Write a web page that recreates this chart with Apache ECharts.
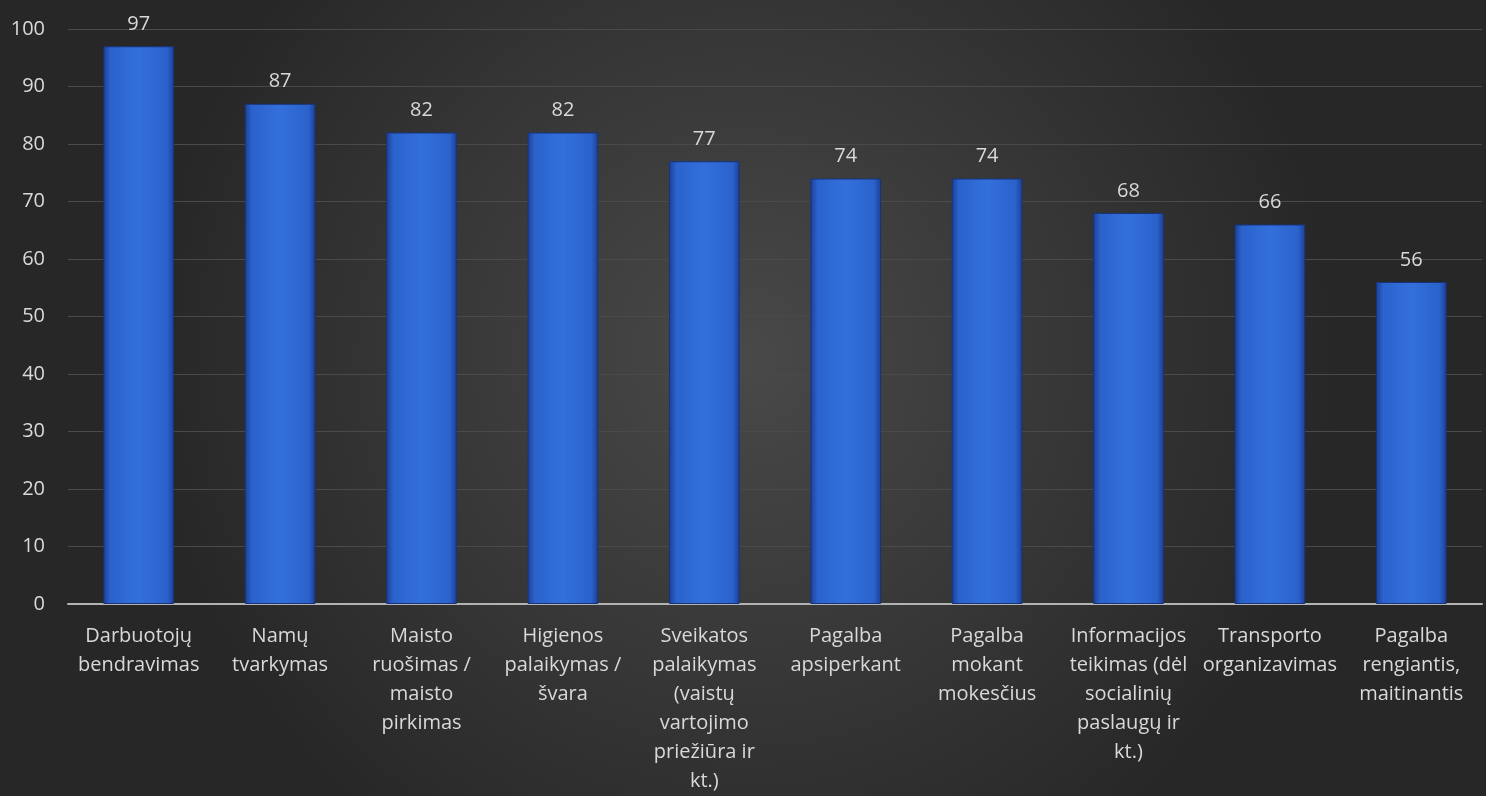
<!DOCTYPE html>
<html><head><meta charset="utf-8">
<script src="https://cdn.jsdelivr.net/npm/echarts@6/dist/echarts.min.js"></script>
<style>html,body{margin:0;padding:0;background:#333;}#c{width:1486px;height:796px;}</style>
</head><body><div id="c"></div>
<script>
const categories = [
  "Darbuotojų\nbendravimas",
  "Namų\ntvarkymas",
  "Maisto\nruošimas /\nmaisto\npirkimas",
  "Higienos\npalaikymas /\nšvara",
  "Sveikatos\npalaikymas\n(vaistų\nvartojimo\npriežiūra ir\nkt.)",
  "Pagalba\napsiperkant",
  "Pagalba\nmokant\nmokesčius",
  "Informacijos\nteikimas (dėl\nsocialinių\npaslaugų ir\nkt.)",
  "Transporto\norganizavimas",
  "Pagalba\nrengiantis,\nmaitinantis"
];
const values = [97, 87, 82, 82, 77, 74, 74, 68, 66, 56];
const yMin = 0, yMax = 100, yStep = 10;

const chart = echarts.init(document.getElementById('c'));
const font = '"Open Sans", Lato, sans-serif';
chart.setOption({
  backgroundColor: {
    type: 'radial', x: 0.5, y: 0.45, r: 0.75,
    colorStops: [{offset: 0, color: '#494949'}, {offset: 1, color: '#272727'}]
  },
  animation: false,
  grid: {left: 68, right: 4, top: 29, bottom: 190},
  xAxis: {
    type: 'category', data: categories,
    axisLine: {lineStyle: {color: '#b3b3b3', width: 2}},
    axisTick: {show: false},
    axisLabel: {color: '#d9d9d9', fontSize: 20, fontFamily: font, lineHeight: 29, margin: 18, interval: 0}
  },
  yAxis: {
    type: 'value', min: yMin, max: yMax, interval: yStep,
    axisLine: {show: false}, axisTick: {show: false},
    axisLabel: {color: '#d9d9d9', fontSize: 20, fontFamily: font, margin: 23},
    splitLine: {lineStyle: {color: '#4a4a4a', width: 1}}
  },
  series: [{
    type: 'bar', data: values, barWidth: '50%',
    itemStyle: {
      color: {
        type: 'linear', x: 0, y: 0, x2: 1, y2: 0,
        colorStops: [
          {offset: 0, color: '#1c3f94'},
          {offset: 0.1, color: '#2b62cc'},
          {offset: 0.5, color: '#3370dc'},
          {offset: 0.9, color: '#2b62cc'},
          {offset: 1, color: '#1c3f94'}
        ]
      },
      borderColor: '#17347a', borderWidth: 1
    },
    label: {show: true, position: 'top', distance: 12, color: '#d9d9d9', fontSize: 20, fontFamily: font}
  }]
});
</script>
</body></html>
